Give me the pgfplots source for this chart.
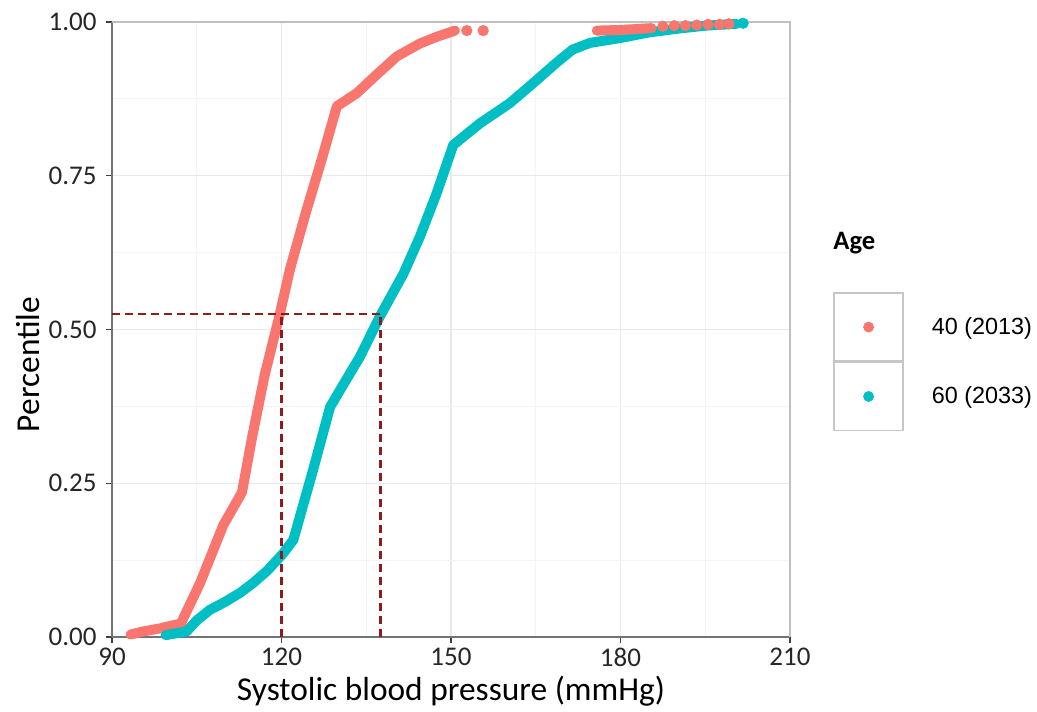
\documentclass[border=0pt]{standalone}
\usepackage{fontspec}
\setmainfont{Carlito}
\newfontfamily\arial{Liberation Sans}
\usepackage{pgfplots}
\pgfplotsset{compat=1.18}
\definecolor{cred}{HTML}{F8766D}
\definecolor{cteal}{HTML}{00BFC4}
\definecolor{dred}{HTML}{8E1C1C}
\begin{document}
\begin{tikzpicture}
\path[use as bounding box] (-56pt,-37pt) rectangle (462.5pt,318.5pt);
\begin{axis}[
  at={(0,0)}, anchor=south west,
  scale only axis, width=339pt, height=307.5pt,
  xmin=90, xmax=210, ymin=0, ymax=1,
  clip=false,
  xtick={90,120,150,180,210}, ytick={0,0.25,0.5,0.75,1},
  minor xtick={105,135,165,195}, minor ytick={0.125,0.375,0.625,0.875},
  minor tick length=0pt,
  grid=both,
  major grid style={gray!17, line width=0.6pt},
  minor grid style={gray!9, line width=0.5pt},
  axis x line*=bottom, axis y line*=left,
  axis line style={-, draw=black!55, line width=0.7pt},
  tick align=outside, major tick length=3pt,
  tick style={black!75, line width=0.7pt},
  /pgf/number format/assume math mode=true,
  ticklabel style={font=\fontsize{13.5}{16}\selectfont, text=black!85},
  xticklabel style={inner ysep=2.5pt},
  yticklabel style={inner xsep=4.5pt, /pgf/number format/fixed, /pgf/number format/fixed zerofill, /pgf/number format/precision=2},
  xlabel={Systolic blood pressure (mmHg)},
  ylabel={Percentile},
  label style={font=\fontsize{16.7}{20}\selectfont},
  xlabel style={at={(axis description cs:0.5,-0.1034)}, anchor=base},
  ylabel style={at={(axis description cs:-0.1062,0.443)}, anchor=base},
  legend style={at={(axis description cs:1.0634,0.561)}, anchor=north west, draw=none, fill=none, inner sep=0pt, row sep=0pt, column sep=14pt, nodes={inner sep=0pt, anchor=west}, font=\arial\fontsize{11.7}{14}\selectfont},
  legend cell align=left,
]
\draw[gray!50, line width=0.6pt] (rel axis cs:0,1) -- (rel axis cs:1,1) -- (rel axis cs:1,0);
% red curve
\addplot[cred, line width=5pt, line cap=round, line join=round, forget plot] coordinates {
(93.3,0.004)(95.5,0.009)(98.5,0.014)(102.2,0.022)(105.6,0.088)(109.7,0.182)(113,0.235)(114.8,0.325)(117,0.425)(119.7,0.525)(121.5,0.598)(124.3,0.69)(127.1,0.776)(129.8,0.863)(133.3,0.884)(136.8,0.914)(140.4,0.944)(144.5,0.965)(147.5,0.976)(150.7,0.986)};
\addplot[cred, only marks, mark=*, mark size=2.6pt, forget plot] coordinates {(152.8,0.986)(155.7,0.986)};
% teal curve
\addplot[cteal, line width=5pt, line cap=round, line join=round, forget plot] coordinates {
(99.5,0.003)(103.2,0.009)(105,0.027)(107.3,0.044)(110,0.057)(112.7,0.072)(115,0.088)(117.5,0.108)(120.3,0.136)(122.1,0.158)(125.6,0.272)(128.6,0.374)(130.4,0.402)(133.9,0.456)(137.4,0.521)(141.6,0.591)(144.5,0.651)(147.4,0.72)(150.4,0.8)(155.1,0.835)(160.4,0.868)(164.6,0.901)(168.7,0.934)(171.5,0.955)(174.6,0.966)(180,0.974)(185,0.983)(190,0.989)(195,0.994)(200.5,0.997)};
\addplot[cteal, only marks, mark=*, mark size=2.6pt, forget plot] coordinates {(201.7,0.998)};
% red top cluster
\addplot[cred, line width=5pt, line cap=round, line join=round, forget plot] coordinates {(175.8,0.986)(180,0.987)(185.5,0.99)};
\addplot[cred, only marks, mark=*, mark size=2.6pt, forget plot] coordinates {(187.5,0.993)(189.5,0.994)(191.5,0.994)(193.5,0.995)(195.5,0.996)(197.5,0.996)(199.2,0.997)};
% dashed guides
\addplot[dred, line width=1.2pt, dash pattern=on 4pt off 2.5pt, forget plot] coordinates {(90,0.525)(137.5,0.525)};
\addplot[dred, line width=1.2pt, dash pattern=on 4pt off 2.5pt, forget plot] coordinates {(120,0)(120,0.525)};
\addplot[dred, line width=1.2pt, dash pattern=on 4pt off 2.5pt, forget plot] coordinates {(137.5,0)(137.5,0.525)};
% legend
\addlegendimage{legend image code/.code={\draw[gray!45, line width=0.7pt, fill=none, solid] (0pt,-17pt) rectangle (34.5pt,17pt); \fill[cred] (17.25pt,0pt) circle (2.5pt);}}
\addlegendentry{40 (2013)}
\addlegendimage{legend image code/.code={\draw[gray!45, line width=0.7pt, fill=none, solid] (0pt,-17pt) rectangle (34.5pt,17pt); \fill[cteal] (17.25pt,0pt) circle (2.5pt);}}
\addlegendentry{60 (2033)}
\end{axis}
\node[anchor=west, font=\bfseries\fontsize{13.3}{16}\selectfont, inner sep=0pt] at (360.5pt,197pt) {Age};
\end{tikzpicture}
\end{document}
